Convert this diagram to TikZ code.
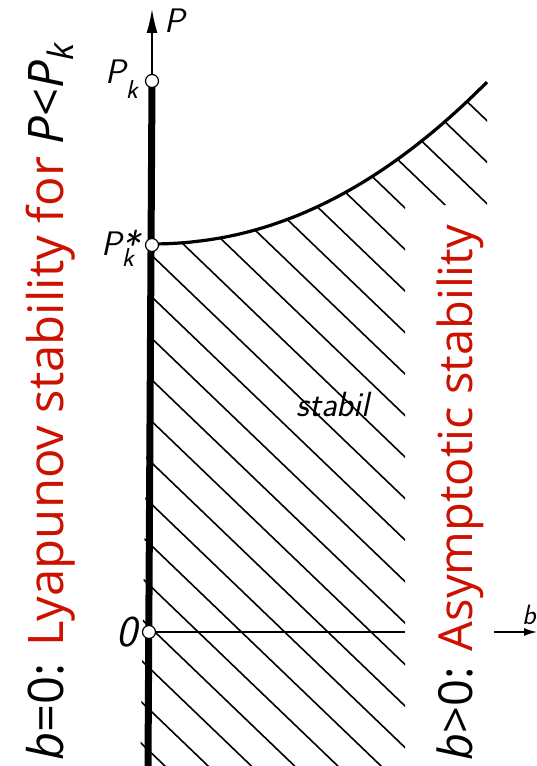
\documentclass[tikz,border=0pt]{standalone}
\usepackage{fontspec}
\newfontfamily\osans{Open Sans}
\usetikzlibrary{arrows.meta}
\definecolor{redtxt}{RGB}{204,17,0}
\begin{document}
\begin{tikzpicture}[x=1bp,y=-1bp,
  declare function={cy(\x)=244-162*((\x-150)/337)^2.1;},
  circ/.style={circle,draw=black,fill=white,line width=1.2bp,minimum size=13bp,inner sep=0pt},
  hatchline/.style={line width=1.6bp},
  curvestyle/.style={line width=3.2bp},
  thinaxis/.style={line width=1.5bp},
  thickaxis/.style={line width=7bp},
  lab/.style={font=\sffamily\itshape\fontsize{34bp}{34bp}\selectfont, inner sep=0pt},
  bigtext/.style={font=\osans\fontsize{48bp}{48bp}\selectfont, inner sep=0pt, rotate=90, anchor=base west}]
\useasboundingbox (0,0) rectangle (537,766);

% hatching
\begin{scope}
  \clip (150,244) -- plot[domain=151:487,samples=60] (\x,{cy(\x)}) -- (487,205) -- (405,205) -- (405,780) -- (140,780) -- cycle;
  \foreach \k in {-22,...,5}{
    \draw[hatchline] (140,{0.96*140+483.2+41.5*\k}) -- (500,{0.96*500+483.2+41.5*\k});
  }
\end{scope}

% coordinates
\coordinate (ptop) at (152,9);
\coordinate (abot) at (148,766);
\coordinate (hend) at (405,632);
\coordinate (bs) at (494,632);
\coordinate (be) at (537,632);
\coordinate (cend) at (487,82);

% axes
\draw[thinaxis,-{Latex[length=24bp,width=11bp]}] (152,81) -- (ptop);
\draw[thickaxis] (152,81) -- (abot);
\draw[thinaxis] (149,632) -- (hend);
\draw[thinaxis,-{Latex[length=13bp,width=8bp]}] (bs) -- (be);

% curve
\draw[curvestyle] (152,244) -- plot[domain=151:487,samples=60] (\x,{cy(\x)});

% points
\node[circ] (pk) at (152,81) {};
\node[circ] (pks) at (152,245) {};
\node[circ] (o) at (149,632) {};

% labels
\node[lab,anchor=base west] (plab) at (164,33) {P};
\node[lab,anchor=base east] (pklab) at (138,83) {P\raisebox{-15bp}{\fontsize{26bp}{26bp}\selectfont k}};
\node[lab,anchor=base east] (pkslab) at (140,255) {P\rlap{\raisebox{-11bp}{\fontsize{26bp}{26bp}\selectfont k}}\raisebox{-3bp}{\fontsize{38bp}{38bp}\selectfont *}};
\node[lab,anchor=east,font=\sffamily\itshape\fontsize{44bp}{44bp}\selectfont] (olab) at (137,632) {0};
\node[lab,font=\sffamily\itshape\fontsize{35bp}{35bp}\selectfont] (stab) at (333,404) {stabil};
\node[lab,anchor=base west,font=\sffamily\itshape\fontsize{28bp}{28bp}\selectfont] (blab) at (522,624) {b};

% rotated texts
\node[bigtext,font=\osans\fontsize{49bp}{49bp}\selectfont] (left) at (63,761) {\textit{b}=0: \textcolor{redtxt}{Lyapunov stability for} \textit{P}<\textit{P}\raisebox{-0.22em}{\fontsize{35bp}{35bp}\selectfont\textit{k}}};
\node[bigtext,font=\osans\fontsize{47bp}{47bp}\selectfont] (right) at (472,761) {\textit{b}>0: \textcolor{redtxt}{Asymptotic stability}};
\end{tikzpicture}
\end{document}
